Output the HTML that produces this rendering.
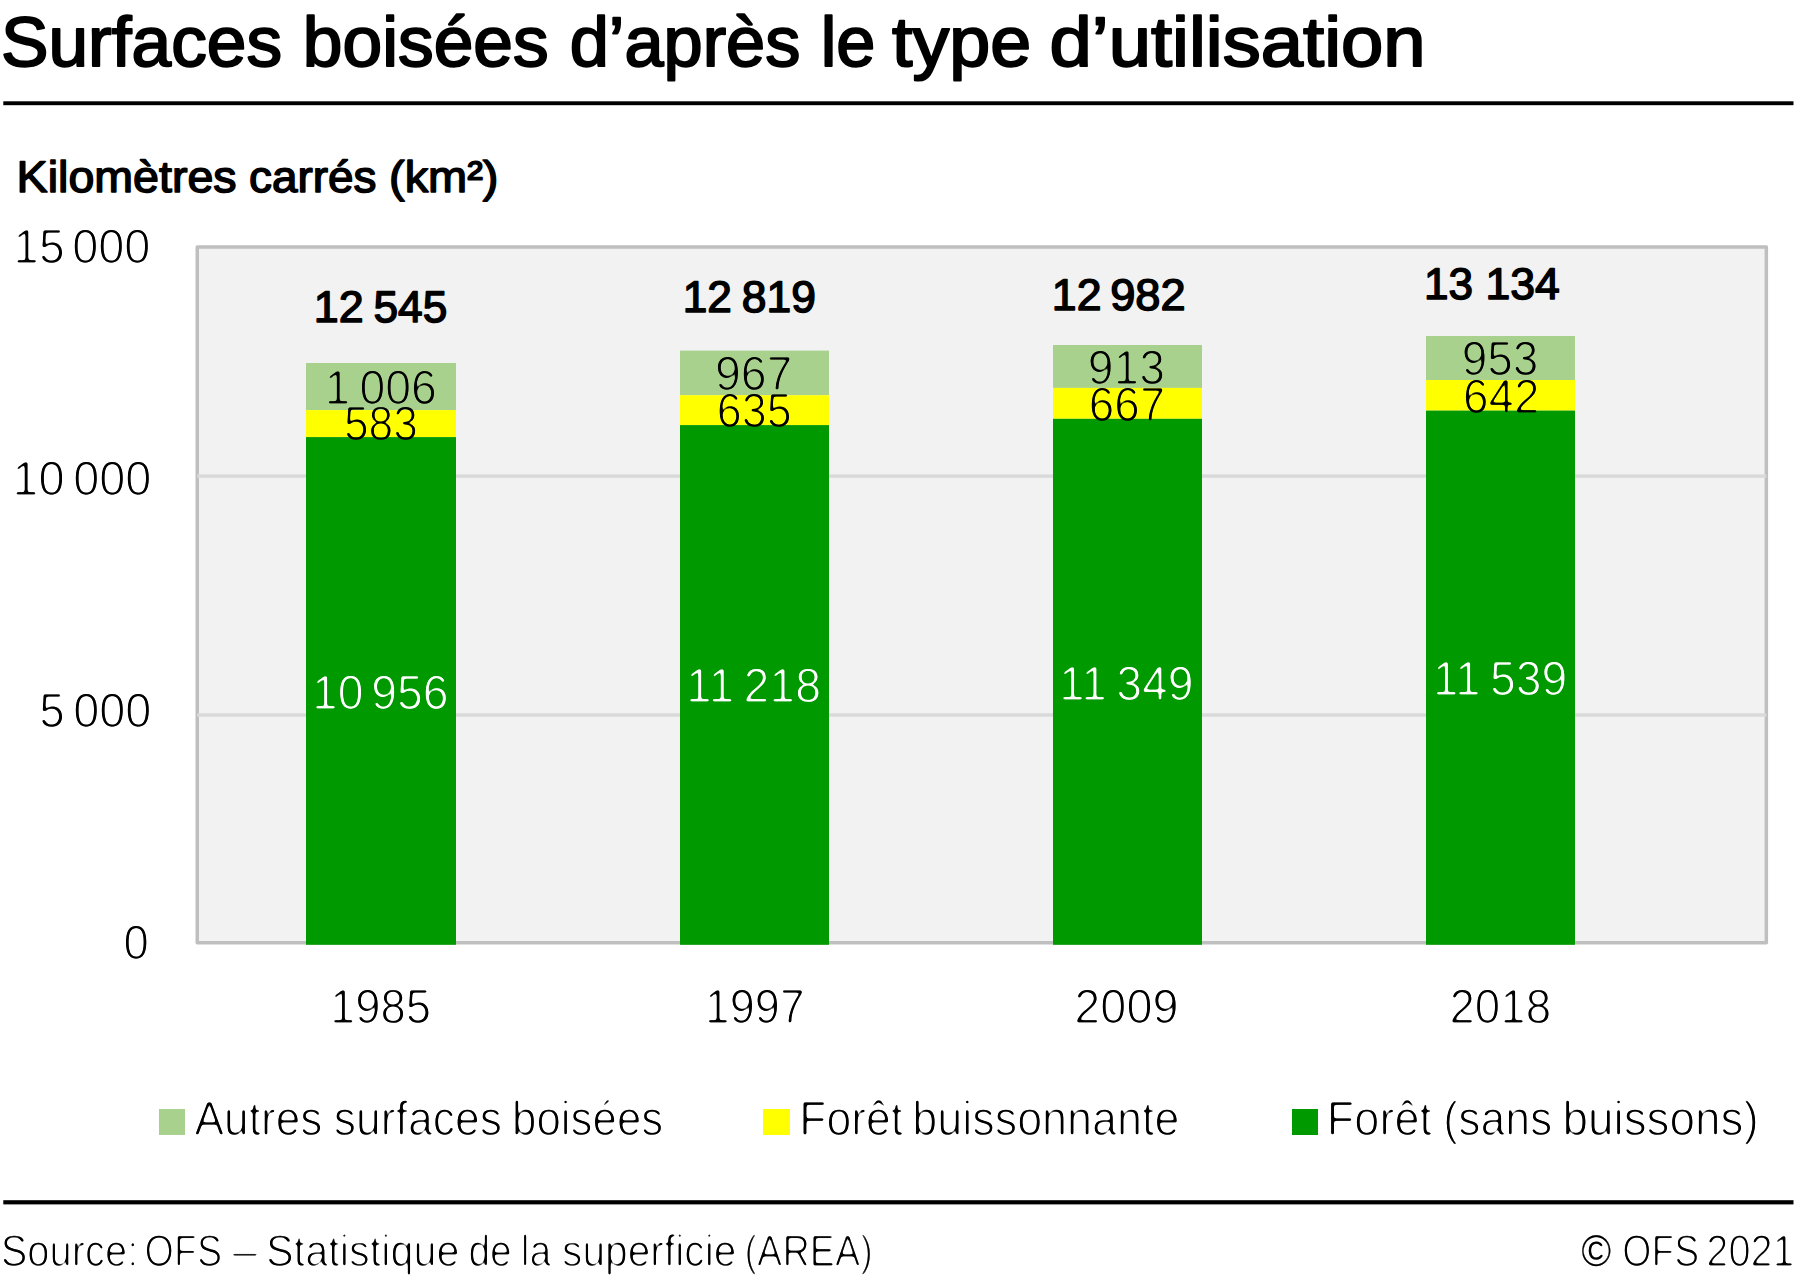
<!DOCTYPE html>
<html lang="fr"><head><meta charset="utf-8"><title>Surfaces boisées d’après le type d’utilisation</title>
<style>
html,body{margin:0;padding:0;background:#fff}
svg{display:block}
text{font-family:"Liberation Sans",sans-serif;fill:#000;white-space:pre;text-rendering:geometricPrecision}
.t{stroke:#000;stroke-width:2.0px;stroke-linejoin:round}
.m{stroke:#000;stroke-width:1.5px;stroke-linejoin:round}
.w{fill:#fff}
</style></head><body>
<svg width="1797" height="1281" viewBox="0 0 1797 1281">
<defs><filter id="thin" filterUnits="userSpaceOnUse" x="0" y="0" width="2400" height="1300" color-interpolation-filters="sRGB">
<feGaussianBlur in="SourceAlpha" stdDeviation="1.0" result="b"/>
<feComponentTransfer in="b" result="a"><feFuncA type="linear" slope="4" intercept="-2.266"/></feComponentTransfer>
<feComposite in="SourceGraphic" in2="a" operator="in"/>
</filter></defs>
<rect width="1797" height="1281" fill="#fff"/>
<rect x="3.3" y="101.3" width="1790.2" height="3.9" fill="#000"/>
<rect x="3.3" y="1200.2" width="1790.2" height="4.2" fill="#000"/>
<rect x="197.25" y="246.95" width="1569.1" height="695.9" fill="#f2f2f2" stroke="#bfbfbf" stroke-width="3.5" stroke-linejoin="round"/>
<rect x="197.25" y="474.4" width="1569.1" height="3.4" fill="#d9d9d9"/>
<rect x="197.25" y="713.3" width="1569.1" height="3.4" fill="#d9d9d9"/>
<rect x="306" y="363.0" width="150" height="47.1" fill="#a9d18e"/>
<rect x="306" y="410.1" width="150" height="27.0" fill="#ffff00"/>
<rect x="306" y="437.1" width="150" height="507.7" fill="#009900"/>
<rect x="680" y="350.6" width="149" height="44.6" fill="#a9d18e"/>
<rect x="680" y="395.2" width="149" height="29.9" fill="#ffff00"/>
<rect x="680" y="425.1" width="149" height="519.7" fill="#009900"/>
<rect x="1053" y="345.0" width="149" height="42.9" fill="#a9d18e"/>
<rect x="1053" y="387.9" width="149" height="30.9" fill="#ffff00"/>
<rect x="1053" y="418.8" width="149" height="526.0" fill="#009900"/>
<rect x="1426" y="336.0" width="149" height="44.0" fill="#a9d18e"/>
<rect x="1426" y="380.0" width="149" height="30.6" fill="#ffff00"/>
<rect x="1426" y="410.6" width="149" height="534.2" fill="#009900"/>
<rect x="159" y="1109" width="26" height="26" fill="#a9d18e"/>
<rect x="763" y="1109" width="27" height="26" fill="#ffff00"/>
<rect x="1292" y="1109" width="26" height="26" fill="#009900"/>
<text class="t" font-size="70.2" y="65.80"><tspan x="0.98" textLength="281.02" lengthAdjust="spacingAndGlyphs">Surfaces</tspan> <tspan x="302.86" textLength="245.73" lengthAdjust="spacingAndGlyphs">boisées</tspan> <tspan x="569.69" textLength="230.70" lengthAdjust="spacingAndGlyphs">d’après</tspan> <tspan x="820.76" textLength="54.68" lengthAdjust="spacingAndGlyphs">le</tspan> <tspan x="892.07" textLength="139.21" lengthAdjust="spacingAndGlyphs">type</tspan> <tspan x="1049.55" textLength="376.06" lengthAdjust="spacingAndGlyphs">d’utilisation</tspan></text>
<text class="m" font-size="44.2" y="191.95"><tspan x="16.63" textLength="220.04" lengthAdjust="spacingAndGlyphs">Kilomètres</tspan> <tspan x="249.08" textLength="127.41" lengthAdjust="spacingAndGlyphs">carrés</tspan> <tspan x="389.03" textLength="109.46" lengthAdjust="spacingAndGlyphs">(km²)</tspan></text>
<text class="m" font-size="44.2" y="322.15"><tspan x="313.84" textLength="49.86" lengthAdjust="spacingAndGlyphs">12</tspan> <tspan x="373.45" textLength="73.84" lengthAdjust="spacingAndGlyphs">545</tspan></text>
<text class="m" font-size="44.2" y="312.25"><tspan x="682.68" textLength="49.18" lengthAdjust="spacingAndGlyphs">12</tspan> <tspan x="741.76" textLength="74.13" lengthAdjust="spacingAndGlyphs">819</tspan></text>
<text class="m" font-size="44.2" y="310.15"><tspan x="1051.85" textLength="49.63" lengthAdjust="spacingAndGlyphs">12</tspan> <tspan x="1110.19" textLength="75.44" lengthAdjust="spacingAndGlyphs">982</tspan></text>
<text class="m" font-size="44.2" y="299.45"><tspan x="1423.89" textLength="49.01" lengthAdjust="spacingAndGlyphs">13</tspan> <tspan x="1485.46" textLength="74.31" lengthAdjust="spacingAndGlyphs">134</tspan></text>
<g filter="url(#thin)">
<text class="l" font-size="48.4" y="262.70"><tspan x="13.35" textLength="51.37" lengthAdjust="spacingAndGlyphs">15</tspan> <tspan x="72.14" textLength="78.33" lengthAdjust="spacingAndGlyphs">000</tspan></text>
<text class="l" font-size="48.4" y="495.30"><tspan x="12.27" textLength="52.24" lengthAdjust="spacingAndGlyphs">10</tspan> <tspan x="73.14" textLength="78.22" lengthAdjust="spacingAndGlyphs">000</tspan></text>
<text class="l" font-size="48.4" y="727.30"><tspan x="39.35" textLength="25.44" lengthAdjust="spacingAndGlyphs">5</tspan> <tspan x="73.14" textLength="78.22" lengthAdjust="spacingAndGlyphs">000</tspan></text>
<text class="l" font-size="48.4" y="958.90"><tspan x="123.41" textLength="25.32" lengthAdjust="spacingAndGlyphs">0</tspan></text>
<text class="l" font-size="48.4" y="403.60"><tspan x="324.43" textLength="112.41" lengthAdjust="spacingAndGlyphs">1 006</tspan></text>
<text class="l" font-size="48.4" y="439.60"><tspan x="343.95" textLength="73.96" lengthAdjust="spacingAndGlyphs">583</tspan></text>
<text class="l w" font-size="48.4" y="708.50"><tspan x="312.04" textLength="51.44" lengthAdjust="spacingAndGlyphs">10</tspan> <tspan x="371.23" textLength="77.27" lengthAdjust="spacingAndGlyphs">956</tspan></text>
<text class="l" font-size="48.4" y="390.40"><tspan x="715.02" textLength="77.40" lengthAdjust="spacingAndGlyphs">967</tspan></text>
<text class="l" font-size="48.4" y="427.20"><tspan x="716.83" textLength="74.78" lengthAdjust="spacingAndGlyphs">635</tspan></text>
<text class="l w" font-size="48.4" y="701.80"><tspan x="686.03" textLength="134.98" lengthAdjust="spacingAndGlyphs">11 218</tspan></text>
<text class="l" font-size="48.4" y="384.40"><tspan x="1087.84" textLength="77.09" lengthAdjust="spacingAndGlyphs">913</tspan></text>
<text class="l" font-size="48.4" y="420.50"><tspan x="1088.87" textLength="76.30" lengthAdjust="spacingAndGlyphs">667</tspan></text>
<text class="l w" font-size="48.4" y="699.70"><tspan x="1059.04" textLength="134.58" lengthAdjust="spacingAndGlyphs">11 349</tspan></text>
<text class="l" font-size="48.4" y="375.10"><tspan x="1461.75" textLength="76.66" lengthAdjust="spacingAndGlyphs">953</tspan></text>
<text class="l" font-size="48.4" y="413.00"><tspan x="1463.06" textLength="76.53" lengthAdjust="spacingAndGlyphs">642</tspan></text>
<text class="l w" font-size="48.4" y="695.00"><tspan x="1432.84" textLength="134.47" lengthAdjust="spacingAndGlyphs">11 539</tspan></text>
<text class="l" font-size="48.4" y="1023.40"><tspan x="330.02" textLength="101.03" lengthAdjust="spacingAndGlyphs">1985</tspan></text>
<text class="l" font-size="48.4" y="1023.40"><tspan x="704.67" textLength="100.07" lengthAdjust="spacingAndGlyphs">1997</tspan></text>
<text class="l" font-size="48.4" y="1023.40"><tspan x="1074.33" textLength="104.10" lengthAdjust="spacingAndGlyphs">2009</tspan></text>
<text class="l" font-size="48.4" y="1023.40"><tspan x="1449.40" textLength="101.75" lengthAdjust="spacingAndGlyphs">2018</tspan></text>
<text class="l" font-size="48.4" y="1135.20"><tspan x="194.58" textLength="127.93" lengthAdjust="spacingAndGlyphs">Autres</tspan> <tspan x="333.63" textLength="168.53" lengthAdjust="spacingAndGlyphs">surfaces</tspan> <tspan x="512.03" textLength="151.31" lengthAdjust="spacingAndGlyphs">boisées</tspan></text>
<text class="l" font-size="48.4" y="1135.20"><tspan x="799.19" textLength="104.08" lengthAdjust="spacingAndGlyphs">Forêt</tspan> <tspan x="912.35" textLength="267.04" lengthAdjust="spacingAndGlyphs">buissonnante</tspan></text>
<text class="l" font-size="48.4" y="1135.20"><tspan x="1326.74" textLength="105.35" lengthAdjust="spacingAndGlyphs">Forêt</tspan> <tspan x="1443.36" textLength="108.94" lengthAdjust="spacingAndGlyphs">(sans</tspan> <tspan x="1562.47" textLength="196.33" lengthAdjust="spacingAndGlyphs">buissons)</tspan></text>
<text class="l" font-size="44.5" y="1265.90"><tspan x="0.70" textLength="137.72" lengthAdjust="spacingAndGlyphs">Source:</tspan> <tspan x="144.55" textLength="77.52" lengthAdjust="spacingAndGlyphs">OFS</tspan> <tspan x="232.21" textLength="25.27" lengthAdjust="spacingAndGlyphs">–</tspan> <tspan x="265.97" textLength="193.63" lengthAdjust="spacingAndGlyphs">Statistique</tspan> <tspan x="468.39" textLength="43.48" lengthAdjust="spacingAndGlyphs">de</tspan> <tspan x="520.82" textLength="30.58" lengthAdjust="spacingAndGlyphs">la</tspan> <tspan x="562.00" textLength="174.42" lengthAdjust="spacingAndGlyphs">superficie</tspan> <tspan x="744.47" textLength="128.48" lengthAdjust="spacingAndGlyphs">(AREA)</tspan></text>
<text class="l" font-size="44.5" y="1265.90"><tspan style="stroke:#000;stroke-width:1.3px" x="1581.35" textLength="29.99" lengthAdjust="spacingAndGlyphs">©</tspan> <tspan x="1622.27" textLength="77.09" lengthAdjust="spacingAndGlyphs">OFS</tspan> <tspan x="1706.31" textLength="88.34" lengthAdjust="spacingAndGlyphs">2021</tspan></text>
</g>
</svg>
</body></html>
